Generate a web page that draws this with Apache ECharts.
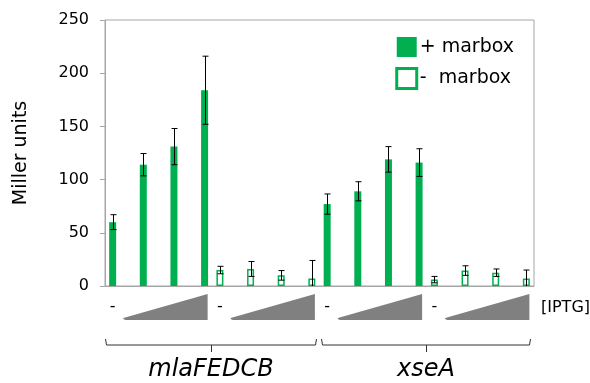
<!DOCTYPE html>
<html>
<head>
<meta charset="utf-8">
<script src="https://cdn.jsdelivr.net/npm/echarts@6/dist/echarts.min.js"></script>
<style>
  html, body { margin: 0; padding: 0; background: #fff; }
  #main { width: 590px; height: 383px; }
</style>
</head>
<body>
<div id="main"></div>
<script>
// 基因分组
const genes = ['mlaFEDCB', 'xseA'];
// + marbox：均值 / 误差（每组4个IPTG浓度）
const plusMean = [[60, 114, 131, 184], [77, 89, 119, 116]];
const plusErr = [[7, 10.5, 17, 32], [9.5, 9, 12, 13]];
// - marbox
const minusMean = [[15, 16, 10, 7], [6, 14.5, 12.5, 7]];
const minusErr = [[3.5, 7, 4.5, 17], [3, 4.5, 3.5, 8]];
// 图例名称
const legendNames = ['+ marbox', '-  marbox'];
const iptgLabel = '[IPTG]';

const green = '#00b050';
const axisGrey = '#a6a6a6';
const fontFamily = 'DejaVu Sans';

// 每个基因占14个槽位：+ 在 0,2,4,6；- 在 7,9,11,13
const slotsPerGene = 14;
const categories = [];
for (let i = 0; i < slotsPerGene * genes.length; i++) categories.push(String(i));

let plusData = categories.map(() => '-');
let minusData = categories.map(() => '-');
let errData = [];
genes.forEach((g, gi) => {
  for (let k = 0; k < 4; k++) {
    let ps = gi * slotsPerGene + 2 * k;
    let ms = gi * slotsPerGene + 7 + 2 * k;
    plusData[ps] = plusMean[gi][k];
    minusData[ms] = minusMean[gi][k];
    errData.push([ps, plusMean[gi][k], plusErr[gi][k]]);
    errData.push([ms, minusMean[gi][k], minusErr[gi][k]]);
  }
});

// IPTG 区块（'-' + 楔形）
let blockData = [];
genes.forEach((g, gi) => {
  blockData.push([gi * slotsPerGene, 0]);
  blockData.push([gi * slotsPerGene + 7, 0]);
});
// 基因括号
let geneData = genes.map((g, gi) => [gi * slotsPerGene, 0, gi]);

let chart = echarts.init(document.getElementById('main'));

let option = {
  backgroundColor: '#fff',
  animation: false,
  grid: {
    left: 105, right: 56, top: 20, bottom: 97,
    show: true, borderColor: axisGrey, borderWidth: 1
  },
  legend: {
    orient: 'vertical',
    right: 71, top: 32,
    itemWidth: 20, itemHeight: 20, itemGap: 10,
    icon: 'rect',
    textStyle: { fontFamily: fontFamily, fontSize: 19, color: '#000', padding: [0, 0, 0, -2] },
    data: [
      { name: legendNames[0], itemStyle: { color: green, borderWidth: 0 } },
      { name: legendNames[1], itemStyle: { color: '#fff', borderColor: green, borderWidth: 3 } }
    ]
  },
  xAxis: {
    type: 'category',
    data: categories,
    axisLine: { lineStyle: { color: axisGrey } },
    axisTick: { show: false },
    axisLabel: { show: false },
    splitLine: { show: false }
  },
  yAxis: {
    type: 'value',
    min: 0, max: 250, interval: 50,
    name: 'Miller units',
    nameLocation: 'middle',
    nameGap: 74,
    nameTextStyle: { fontFamily: fontFamily, fontSize: 19, color: '#000' },
    axisLine: { show: true, lineStyle: { color: axisGrey } },
    axisTick: { show: true, length: 5, lineStyle: { color: axisGrey } },
    axisLabel: { fontFamily: fontFamily, fontSize: 16, color: '#000', margin: 16 },
    splitLine: { show: false }
  },
  graphic: [{
    type: 'text',
    left: 541, top: 300,
    style: { text: iptgLabel, font: '16px "DejaVu Sans"', fill: '#000' }
  }],
  series: [
    {
      name: legendNames[0],
      type: 'bar',
      data: plusData,
      barWidth: 7,
      barGap: '-100%',
      itemStyle: { color: green }
    },
    {
      name: legendNames[1],
      type: 'bar',
      data: minusData,
      barWidth: 7,
      itemStyle: { color: '#fff', borderColor: green, borderWidth: 1.5 }
    },
    {
      // 误差线
      type: 'custom',
      data: errData,
      z: 5,
      renderItem: function (params, api) {
        let x = api.value(0), m = api.value(1), e = api.value(2);
        let top = api.coord([x, m + e]);
        let lowV = Math.max(0, m - e);
        let bot = api.coord([x, lowV]);
        let cx = Math.round(top[0]) + 0.5;
        let cw = 3;
        let st = { stroke: '#000', lineWidth: 1 };
        let children = [
          { type: 'line', shape: { x1: cx, y1: top[1], x2: cx, y2: bot[1] }, style: st },
          { type: 'line', shape: { x1: cx - cw, y1: top[1], x2: cx + cw, y2: top[1] }, style: st }
        ];
        if (m - e > 0) {
          children.push({ type: 'line', shape: { x1: cx - cw, y1: bot[1], x2: cx + cw, y2: bot[1] }, style: st });
        }
        return { type: 'group', children: children };
      }
    },
    {
      // IPTG 标记：'-' 和楔形
      type: 'custom',
      data: blockData,
      silent: true,
      renderItem: function (params, api) {
        let s = api.value(0);
        let band = api.size([1, 0])[0];
        let p0 = api.coord([s, 0]);
        let axisY = p0[1];
        let x0 = p0[0] + band * 0.7;
        let x1 = p0[0] + band * 6.2;
        return {
          type: 'group',
          children: [
            {
              type: 'text',
              style: {
                x: p0[0], y: axisY + 21, text: '-',
                font: '16px "DejaVu Sans"', fill: '#000',
                align: 'center', verticalAlign: 'middle'
              }
            },
            {
              type: 'polygon',
              shape: { points: [[x0, axisY + 33], [x0, axisY + 32], [x1, axisY + 8], [x1, axisY + 34], [x0 + 2, axisY + 34]] },
              style: { fill: '#808080' }
            }
          ]
        };
      }
    },
    {
      // 基因括号及名称
      type: 'custom',
      data: geneData,
      silent: true,
      renderItem: function (params, api) {
        let s = api.value(0);
        let gi = api.value(2);
        let band = api.size([1, 0])[0];
        let p0 = api.coord([s, 0]);
        let axisY = p0[1];
        let xa = Math.round(p0[0] - band * 0.5 + (gi ? 1 : 0)) + 0.5;
        let xb = Math.round(p0[0] + band * 13.25) + 0.5;
        let xm = Math.round((xa + xb) / 2) + 0.5;
        let yTop = axisY + 53, yLine = axisY + 59, yTick = axisY + 66;
        let st = { stroke: '#333', lineWidth: 1, fill: null };
        return {
          type: 'group',
          children: [
            { type: 'polyline', shape: { points: [[xa, yTop], [xa + 1, yLine], [xb - 1, yLine], [xb, yTop]] }, style: st },
            { type: 'line', shape: { x1: xm, y1: yLine, x2: xm, y2: yTick }, style: st },
            {
              type: 'text',
              style: {
                x: (xa + xb) / 2, y: axisY + 84, text: genes[gi],
                font: 'italic 24px "DejaVu Sans"', fill: '#000',
                align: 'center', verticalAlign: 'middle'
              }
            }
          ]
        };
      }
    }
  ]
};

chart.setOption(option);
</script>
</body>
</html>
